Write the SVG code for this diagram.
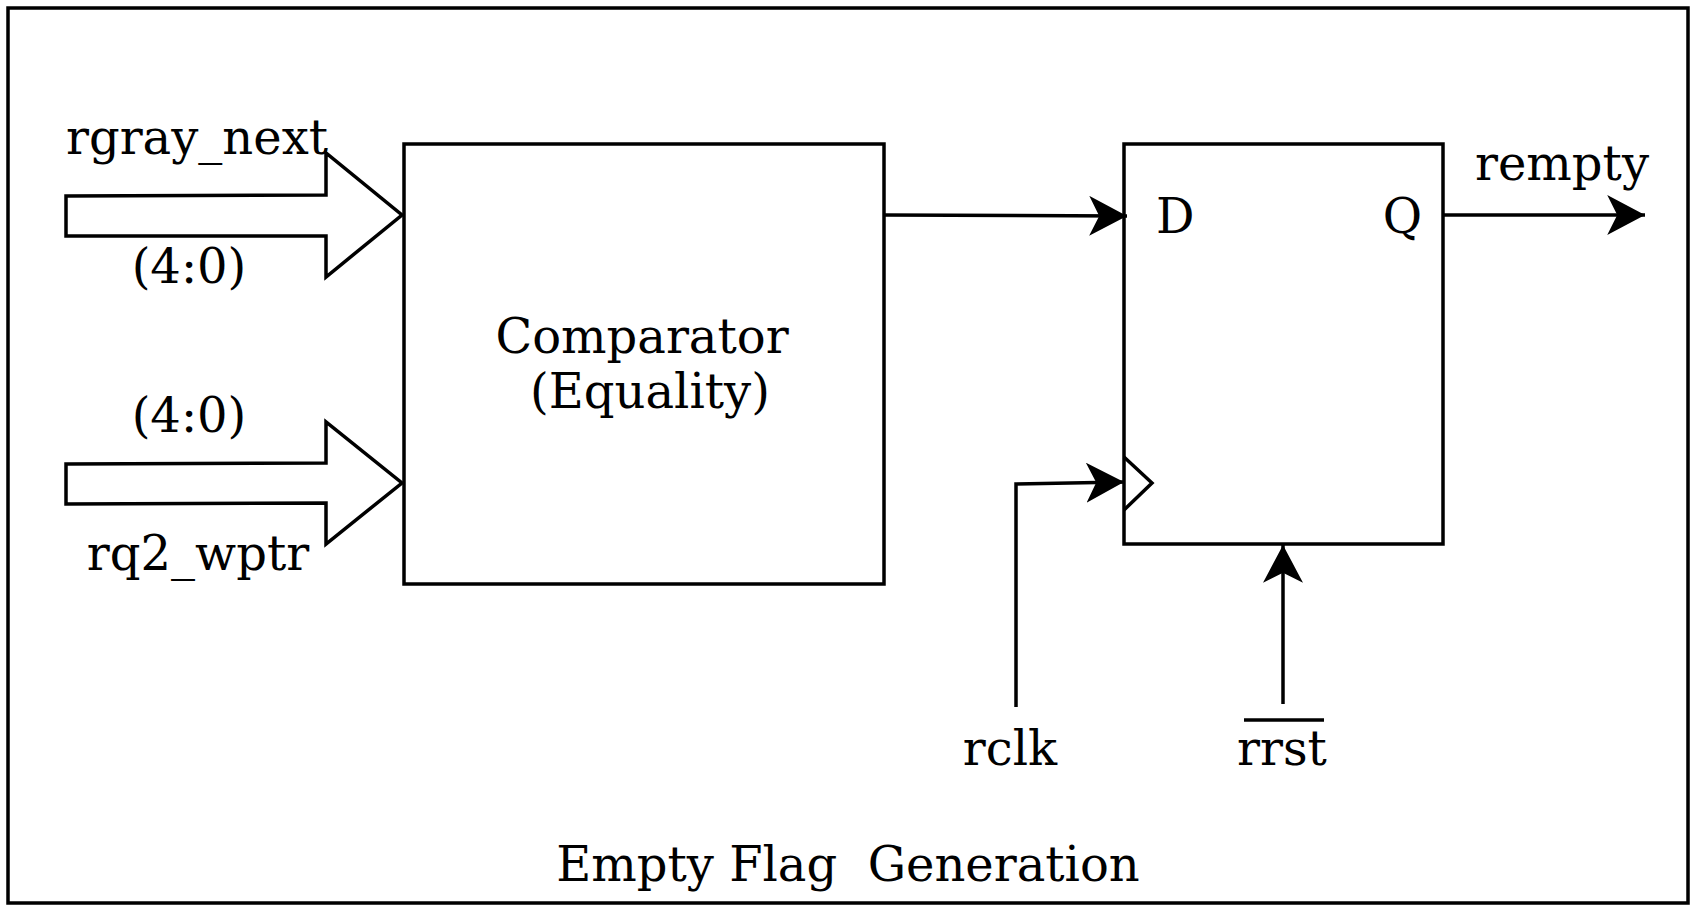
<svg xmlns="http://www.w3.org/2000/svg" width="1696" height="912" viewBox="0 0 1696 912">
<style>
.s{fill:#fff;stroke:#000;stroke-width:3.5}
.l{fill:none;stroke:#000;stroke-width:3.5}
text{font-family:"DejaVu Serif","Liberation Serif",serif;font-size:48px;fill:#000}
</style>
<defs>
<marker id="ah" markerUnits="userSpaceOnUse" markerWidth="40" markerHeight="40" viewBox="0 0 36 36" refX="34" refY="18" orient="auto">
<path d="M0,0 L34,18 L0,36 L9,18 Z" fill="#000"/>
</marker>
</defs>
<rect x="8" y="8" width="1680" height="895" fill="#fff" stroke="#000" stroke-width="3.5"/>
<g id="bus1">
<path class="s" d="M66,196 L326,195 L326,153 L402,215 L326,277 L326,236 L66,236 Z"/>
<text x="66" y="154">rgray_next</text>
<text x="189" y="283" text-anchor="middle">(4:0)</text>
</g>
<g id="bus2">
<path class="s" d="M66,464 L326,463 L326,422 L402,483 L326,544 L326,503 L66,504 Z"/>
<text x="189" y="432" text-anchor="middle">(4:0)</text>
<text x="198" y="570" text-anchor="middle">rq2_wptr</text>
</g>
<g id="comparator">
<rect class="s" x="404" y="144" width="480" height="440"/>
<text x="642" y="353" text-anchor="middle">Comparator</text>
<text x="650" y="408" text-anchor="middle">(Equality)</text>
</g>
<g id="dff">
<rect class="s" x="1124" y="144" width="319" height="400"/>
<path class="l" d="M1124,457 L1152,483 L1124,510"/>
<text x="1156" y="233">D</text>
<text x="1422" y="233" text-anchor="end">Q</text>
</g>
<g id="labels">
<text x="1562" y="180" text-anchor="middle">rempty</text>
<text x="1010" y="765" text-anchor="middle">rclk</text>
<text x="1282" y="765" text-anchor="middle">rrst</text>
<line x1="1244" y1="720" x2="1324" y2="720" stroke="#000" stroke-width="3.5"/>
<text x="848" y="881" text-anchor="middle" xml:space="preserve">Empty Flag  Generation</text>
</g>
<g id="connectors">
<path class="l" d="M884,215 L1127,216" marker-end="url(#ah)"/>
<path class="l" d="M1443,215 L1645,215" marker-end="url(#ah)"/>
<path class="l" d="M1016,707 L1016,484 L1124,482" marker-end="url(#ah)"/>
<path class="l" d="M1283,704 L1283,545" marker-end="url(#ah)"/>
</g>
</svg>
